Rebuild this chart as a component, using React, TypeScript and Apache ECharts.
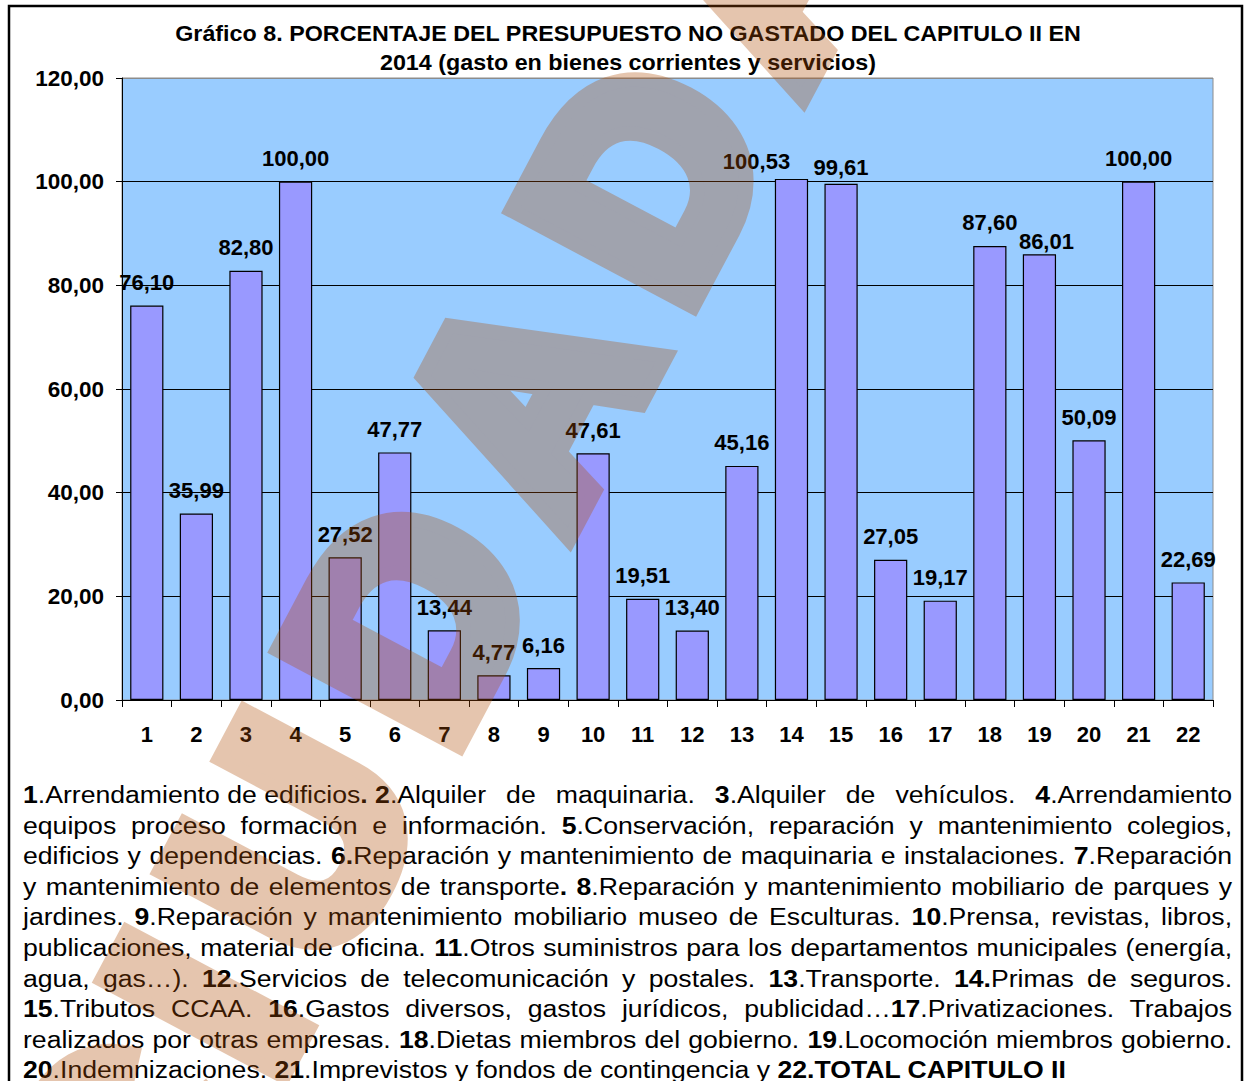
import React, { useEffect, useRef } from 'react';
import * as echarts from 'echarts';

const categories = ['1', '2', '3', '4', '5', '6', '7', '8', '9', '10', '11', '12', '13', '14', '15', '16', '17', '18', '19', '20', '21', '22'];
const values = [76.10, 35.99, 82.80, 100.00, 27.52, 47.77, 13.44, 4.77, 6.16, 47.61, 19.51, 13.40, 45.16, 100.53, 99.61, 27.05, 19.17, 87.60, 86.01, 50.09, 100.00, 22.69];
const titleLines = [
  'Gráfico 8. PORCENTAJE DEL PRESUPUESTO NO GASTADO DEL CAPITULO II EN',
  '2014 (gasto en bienes corrientes y servicios)',
];
const watermarkText = 'CIUDADANOS';

// [text, bold, keepTight]
type Seg = [string, boolean, boolean?];
const legendLines: Seg[][] = [
  [['1', true, true], ['.Arrendamiento de edificios', false, true], ['. 2', true, true], ['.Alquiler', false, true], [' de maquinaria. ', false], ['3', true], ['.Alquiler de vehículos. ', false], ['4', true], ['.Arrendamiento', false]],
  [['equipos proceso formación e información. ', false], ['5', true], ['.Conservación, reparación y mantenimiento colegios,', false]],
  [['edificios y dependencias. ', false], ['6.', true], ['Reparación y mantenimiento de maquinaria e instalaciones. ', false], ['7', true], ['.Reparación', false]],
  [['y mantenimiento de elementos de transporte', false], ['. 8', true], ['.Reparación y mantenimiento mobiliario de parques y', false]],
  [['jardines. ', false], ['9', true], ['.Reparación y mantenimiento mobiliario museo de Esculturas. ', false], ['10', true], ['.Prensa, revistas, libros,', false]],
  [['publicaciones, material de oficina. ', false], ['11', true], ['.Otros suministros para los departamentos municipales (energía,', false]],
  [['agua, gas…). ', false], ['12', true], ['.Servicios de telecomunicación y postales. ', false], ['13', true], ['.Transporte. ', false], ['14.', true], ['Primas de seguros.', false]],
  [['15', true], ['.Tributos CCAA. ', false], ['16', true], ['.Gastos diversos, gastos jurídicos, publicidad…', false], ['17', true], ['.Privatizaciones. Trabajos', false]],
  [['realizados por otras empresas. ', false], ['18', true], ['.Dietas miembros del gobierno. ', false], ['19', true], ['.Locomoción miembros gobierno.', false]],
  [['20', true], ['.Indemnizaciones. ', false], ['21', true], ['.Imprevistos y fondos de contingencia y ', false], ['22.TOTAL CAPITULO II', true]],
];

const FONT = '"Liberation Sans", Arial, Helvetica, sans-serif';
const fmt = (v: number) => v.toFixed(2).replace('.', ',');

// manual label nudges (index -> [dx, dy]) as in the original
const labelNudges: Record<number, [number, number]> = { 13: [-35, 6], 14: [0, 7], 18: [7, 10] };

// watermark layout (heavy sans letters set along a rotated baseline)
const WM_ANGLE = 62;
const WM_EM = 320;
const WM_ADV: Record<string, number> = { C: 0.722, I: 0.389, U: 0.778, D: 0.778, A: 0.778, N: 0.833, O: 0.833, S: 0.722 };
const WM_ANCHOR_INDEX = 5; // second "D"
const WM_ANCHOR = [693.3, 328.3]; // bottom-left of its stem
const WM_ANCHOR_CENTER = 108;
const WM_CAP = 229;

function watermarkElements() {
  const letters = watermarkText.split('');
  const centers: number[] = [];
  let acc = 0;
  letters.forEach((ch) => {
    const w = WM_ADV[ch] * WM_EM;
    centers.push(acc + w / 2);
    acc += w;
  });
  const a = (WM_ANGLE * Math.PI) / 180;
  const u = [Math.cos(a), -Math.sin(a)];
  const v = [-Math.sin(a), -Math.cos(a)];
  return letters.map((ch, i) => {
    const s = centers[i] - centers[WM_ANCHOR_INDEX] + WM_ANCHOR_CENTER;
    const x = WM_ANCHOR[0] + s * u[0] + (WM_CAP / 2) * v[0];
    const y = WM_ANCHOR[1] + s * u[1] + (WM_CAP / 2) * v[1];
    return {
      type: 'text', silent: true, x, y, rotation: a,
      style: {
        text: ch, fill: '#AF4E07', stroke: '#AF4E07', lineWidth: 29, lineJoin: 'miter', miterLimit: 2,
        font: `bold 279px ${FONT}`, align: 'center', verticalAlign: 'middle', textAlign: 'center', textVerticalAlign: 'middle',
      },
    };
  });
}

function renderLine(segs: Seg[]) {
  const out: React.ReactNode[] = [];
  let tight: React.ReactNode[] = [];
  const flush = (k: number) => {
    if (tight.length) {
      out.push(<span key={'g' + k} style={{ display: 'inline-block', whiteSpace: 'pre' }}>{tight}</span>);
      tight = [];
    }
  };
  segs.forEach(([t, b, g], j) => {
    const node = <span key={j} style={{ fontWeight: b ? 'bold' : 'normal' }}>{t}</span>;
    if (g) tight.push(node);
    else {
      flush(j);
      out.push(node);
    }
  });
  flush(segs.length);
  return out;
}

export default function App() {
  const ref = useRef<HTMLDivElement>(null);
  const wmRef = useRef<HTMLDivElement>(null);

  useEffect(() => {
    const chart = echarts.init(ref.current as HTMLDivElement, null, { renderer: 'svg' });
    chart.setOption({
      animation: false,
      backgroundColor: 'transparent',
      textStyle: { fontFamily: FONT },
      grid: {
        left: 122, right: 32, top: 78, bottom: 381,
        show: true, backgroundColor: '#99CCFF', borderColor: '#8c8c8c', borderWidth: 1,
      },
      xAxis: {
        type: 'category',
        data: categories,
        axisLine: { show: true, lineStyle: { color: '#000', width: 1 } },
        axisTick: { show: true, length: 7, lineStyle: { color: '#000', width: 1 } },
        axisLabel: { margin: 23, fontSize: 22, fontWeight: 'bold', color: '#000', fontFamily: FONT },
        splitLine: { show: false },
      },
      yAxis: {
        type: 'value',
        min: 0, max: 120, interval: 20,
        axisLine: { show: true, lineStyle: { color: '#000', width: 1 } },
        axisTick: { show: true, length: 6, lineStyle: { color: '#000', width: 1 } },
        axisLabel: { formatter: (v: number) => fmt(v), margin: 18, fontSize: 22.5, fontWeight: 'bold', color: '#000', fontFamily: FONT },
        splitLine: { show: true, lineStyle: { color: ['#000', '#000', '#000', '#000', '#000', '#000', '#8c8c8c'], width: 1 } },
      },
      series: [{
        type: 'bar',
        data: values.map((v, i) => (labelNudges[i] ? { value: v, label: { offset: labelNudges[i] } } : v)),
        barCategoryGap: '33%',
        itemStyle: { color: '#9999FF', borderColor: '#000', borderWidth: 1.2 },
        label: {
          show: true, position: 'top', distance: 12,
          formatter: (p: any) => fmt(p.value),
          fontSize: 22, fontWeight: 'bold', color: '#000', fontFamily: FONT,
        },
      }],
      graphic: [
        {
          type: 'rect', silent: true, z: 50,
          shape: { x: 9, y: 6, width: 1233, height: 1200 },
          style: { fill: 'none', stroke: '#000', lineWidth: 2.5 },
        },
        {
          type: 'text', silent: true, x: 628, y: 33, z: 50, scaleX: 1.06,
          style: { text: titleLines[0], fill: '#000', font: `bold 22px ${FONT}`, align: 'center', verticalAlign: 'middle', textAlign: 'center', textVerticalAlign: 'middle' },
        },
        {
          type: 'text', silent: true, x: 628, y: 62, z: 50, scaleX: 1.06,
          style: { text: titleLines[1], fill: '#000', font: `bold 22px ${FONT}`, align: 'center', verticalAlign: 'middle', textAlign: 'center', textVerticalAlign: 'middle' },
        },
      ],
    });

    const wm = echarts.init(wmRef.current as HTMLDivElement, null, { renderer: 'svg' });
    wm.setOption({
      animation: false,
      backgroundColor: 'transparent',
      graphic: watermarkElements(),
    });

    return () => {
      chart.dispose();
      wm.dispose();
    };
  }, []);

  return (
    <div style={{ position: 'fixed', left: 0, top: 0, width: 1245, height: 1081, background: '#fff', overflow: 'hidden' }}>
      <div style={{
        position: 'absolute', left: 23, top: 780, width: 1045,
        transform: 'scaleX(1.157)', transformOrigin: '0 0',
        fontFamily: FONT, fontSize: 23, lineHeight: '30.6px', color: '#000',
      }}>
        {legendLines.map((segs, i) => {
          const last = i === legendLines.length - 1;
          return (
            <div key={i} style={{ height: 30.6, textAlign: last ? 'left' : 'justify', textAlignLast: last ? 'left' : 'justify' } as any}>
              {renderLine(segs)}
            </div>
          );
        })}
      </div>
      <div ref={ref} style={{ position: 'absolute', left: 0, top: 0, width: 1245, height: 1081 }} />
      <div ref={wmRef} style={{ position: 'absolute', left: 0, top: 0, width: 1245, height: 1081, opacity: 0.32, pointerEvents: 'none' }} />
    </div>
  );
}
